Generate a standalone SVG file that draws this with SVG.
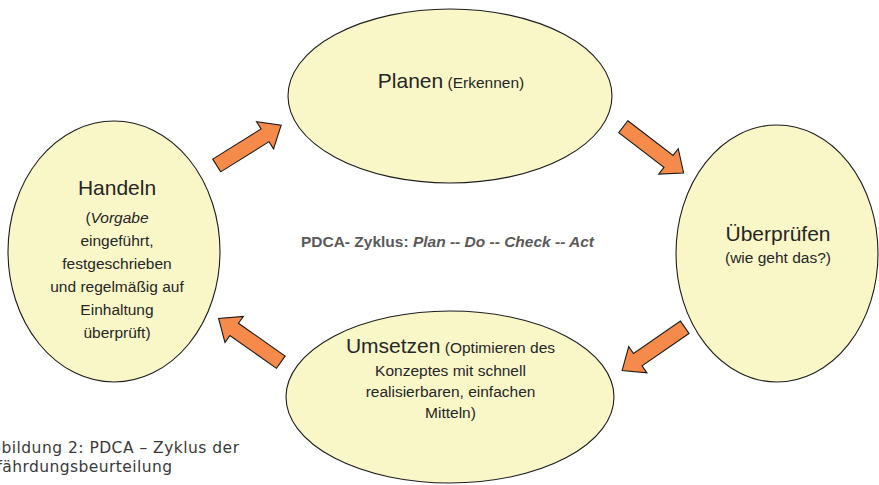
<svg xmlns="http://www.w3.org/2000/svg" width="879" height="485" viewBox="0 0 879 485">
<defs>
<style>
.node{fill:#F9F6C8;stroke:#1e1e1e;stroke-width:1.1}
.arrow{fill:#F68A4A;stroke:#1a1a1a;stroke-width:1.1;stroke-linejoin:miter}
.t{font-family:"Liberation Sans",Arial,sans-serif;fill:#262626;text-anchor:middle}
.big{font-size:21px}
.sm{font-size:15.5px}
.title{font-family:"Liberation Sans",Arial,sans-serif;font-size:15.5px;font-weight:bold;fill:#5a5a5a;text-anchor:middle}
.cap{font-family:"DejaVu Sans","Liberation Sans",sans-serif;font-size:15.5px;fill:#3a3a3a}
</style>
<polygon id="arr" points="0,-7.5 57,-7.5 57,-16 76,0 57,16 57,7.5 0,7.5"/>
</defs>
<rect width="879" height="485" fill="#fff"/>
<g id="connectors">
<use href="#arr" class="arrow" transform="translate(216.7,165.5) rotate(-32)"/>
<use href="#arr" class="arrow" transform="translate(623.3,126.7) rotate(37.5)"/>
<use href="#arr" class="arrow" transform="translate(684.7,327.3) rotate(145.4)"/>
<use href="#arr" class="arrow" transform="translate(280.8,362.2) rotate(215.1)"/>
</g>
<g id="planen">
<ellipse class="node" cx="450" cy="96" rx="162" ry="87"/>
<text class="t" x="451" y="88"><tspan class="big">Planen</tspan><tspan class="sm"> (Erkennen)</tspan></text>
</g>
<g id="ueberpruefen">
<ellipse class="node" cx="777" cy="253.5" rx="101" ry="128.5"/>
<text class="t big" x="778" y="241">Überprüfen</text>
<text class="t sm" x="778" y="263">(wie geht das?)</text>
</g>
<g id="umsetzen">
<ellipse class="node" cx="450" cy="397" rx="164" ry="86"/>
<text class="t" x="450.5" y="353"><tspan class="big">Umsetzen</tspan><tspan class="sm"> (Optimieren des</tspan></text>
<text class="t sm" x="450.5" y="376">Konzeptes mit schnell</text>
<text class="t sm" x="450.5" y="397">realisierbaren, einfachen</text>
<text class="t sm" x="450.5" y="418">Mitteln)</text>
</g>
<g id="handeln">
<ellipse class="node" cx="114" cy="251.5" rx="106" ry="130.5"/>
<text class="t big" x="117" y="195">Handeln</text>
<text class="t sm" x="117" y="223">(<tspan font-style="italic">Vorgabe</tspan></text>
<text class="t sm" x="117" y="246">eingeführt,</text>
<text class="t sm" x="117" y="269">festgeschrieben</text>
<text class="t sm" x="117" y="292">und regelmäßig auf</text>
<text class="t sm" x="117" y="315">Einhaltung</text>
<text class="t sm" x="117" y="338">überprüft)</text>
</g>
<g id="title">
<text class="title" x="447.5" y="247">PDCA- Zyklus: <tspan font-style="italic">Plan -- Do -- Check -- Act</tspan></text>
</g>
<g id="caption">
<text class="cap" x="-20" y="453" textLength="259">Abbildung 2: PDCA – Zyklus der</text>
<text class="cap" x="-26" y="471.5" textLength="198">Gefährdungsbeurteilung</text>
</g>
</svg>
